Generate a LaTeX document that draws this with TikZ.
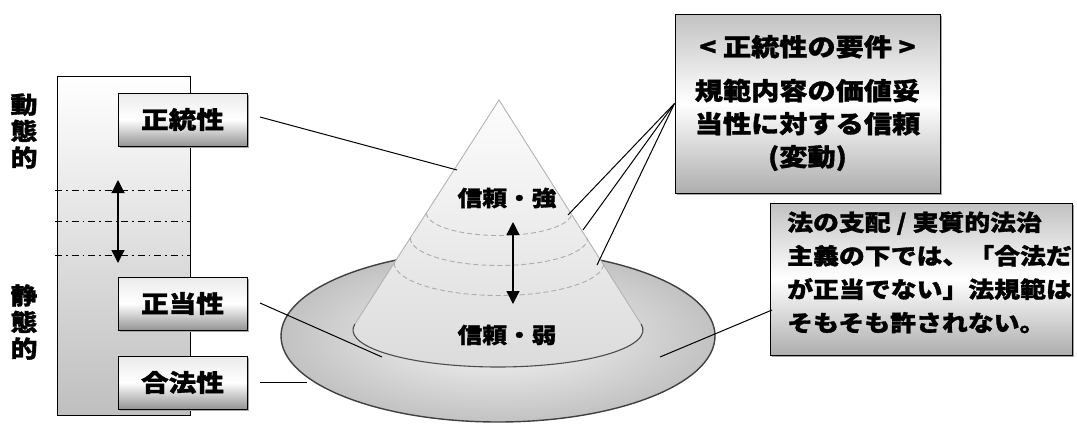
\documentclass[tikz,border=0pt]{standalone}
\usepackage{fontspec}
\newfontfamily\jp{Noto Sans CJK JP}[FakeStretch=1.15, BoldFeatures={FakeBold=1.3}]
\usetikzlibrary{arrows.meta,calc}
\pgfdeclareverticalshading{smallgradient}{100bp}{color(0bp)=(black!45); color(25bp)=(black!42); color(50bp)=(white); color(75bp)=(black!8); color(100bp)=(black!8)}
\pgfdeclareverticalshading{biggradient}{100bp}{color(0bp)=(black!35); color(25bp)=(black!32); color(50bp)=(white); color(75bp)=(black!24); color(100bp)=(black!24)}
\begin{document}
\begin{tikzpicture}[x=1pt,y=-1pt,
  lbl/.style={font=\jp\bfseries\fontsize{24}{28}\selectfont},
  conelbl/.style={font=\jp\bfseries\fontsize{21.5}{24}\selectfont},
  vert/.style={font=\jp\bfseries\fontsize{23.5}{26.5}\selectfont, align=center, inner sep=0pt},
  smallbox/.style={lbl, draw=black, line width=1pt, minimum width=129pt, minimum height=53pt, inner sep=0pt},
  bigbox/.style={draw=black, line width=1pt, inner sep=0pt},
  conn/.style={line width=1pt, black},
  dashdot/.style={line width=0.7pt, dash pattern=on 7pt off 4pt on 1.5pt off 4pt},
  dbl/.style={{Triangle[length=13pt,width=13pt]}-{Triangle[length=13pt,width=13pt]}, line width=1.3pt},
  level/.style={gray!65, line width=0.9pt, dash pattern=on 5pt off 3pt}
]
\useasboundingbox (0,0) rectangle (1077,424);

% left column
\draw[line width=0.9pt, top color=white, bottom color=gray!50] (57,76) rectangle (190,415);
\draw[dashdot] (55,190) -- (190,190);
\draw[dashdot] (55,221) -- (190,221);
\draw[dashdot] (55,255) -- (190,255);
\coordinate (la) at (118,180);
\coordinate (lb) at (118,263);
\draw[dbl] (la) -- (lb);

\node[vert] (dyn) at (24,131) {動\\態\\的};
\node[vert] (sta) at (24,322) {静\\態\\的};

% small boxes: shadow, gradient, then outlined node with text
\foreach \cy in {119.5,303.5,382.5}{
  \fill[gray!70] (118+2,\cy-26.5+2) rectangle (247+2,\cy+26.5+2);
  \shade[shading=smallgradient] (118,\cy-26.5) rectangle (247,\cy+26.5);
}
\node[smallbox] (zt) at (182.5,119.5) {正統性};
\node[smallbox] (zd) at (182.5,303.5) {正当性};
\node[smallbox] (gh) at (182.5,382.5) {合法性};

% disk
\draw[line width=1.4pt, black!75, inner color=gray!5, outer color=gray!48] (498,336) ellipse [x radius=217, y radius=86];

% cone
\coordinate (apex) at (499,100);
\coordinate (bc) at (498,330);
\path[top color=gray!2, bottom color=gray!28]
  (apex) -- ($(bc)+(189.3:145 and 37)$) arc[start angle=189.3, end angle=-9.3, x radius=145, y radius=37] -- cycle;
\draw[gray!60, line width=0.9pt] ($(bc)+(189.3:145 and 37)$) -- (apex) -- ($(bc)+(-9.3:145 and 37)$);
\draw[black!70, line width=1.1pt] ($(bc)+(189.3:145 and 37)$) arc[start angle=189.3, end angle=-9.3, x radius=145, y radius=37];

% dashed levels
\foreach \yy/\w in {213/72.6, 238/88.7, 263/104.8}{
  \draw[level] (499-\w,\yy) arc[start angle=180, end angle=0, x radius=\w, y radius=0.31*\w];
}

\node[conelbl] (strong) at (507,198) {信頼・強};
\node[conelbl] (weak) at (507,335) {信頼・弱};
\coordinate (ca) at (513,222);
\coordinate (cb) at (513,304);
\draw[dbl] (ca) -- (cb);

% requirement box
\fill[gray!70] (677,16) rectangle (942,195);
\shade[shading=biggradient] (675,14) rectangle (940,193);
\node[bigbox, minimum width=265pt, minimum height=179pt] (req) at (807.5,103.5) {};
\node[lbl, align=center, inner sep=0pt, font=\jp\bfseries\fontsize{24.5}{33}\selectfont] (reqtext) at (807.5,103) {< 正統性の要件 >\\[11pt]規範内容の価値妥\\当性に対する信頼\\(変動)};

% rule of law box
\fill[gray!70] (772,205) rectangle (1074,357);
\shade[shading=biggradient] (770,203) rectangle (1072,355);
\node[bigbox, minimum width=302pt, minimum height=152pt] (rule) at (921,279) {};
\node[lbl, align=left, inner sep=0pt, anchor=west, font=\jp\bfseries\fontsize{22.5}{33.5}\selectfont] (ruletext) at (787,272.5) {法の支配 / 実質的法治\\主義の下では、「合法だ\\が正当でない」法規範は\\そもそも許されない。};

% connectors
\coordinate (s1) at (260,117);
\coordinate (e1) at (457,170);
\draw[conn] (s1) -- (e1);
\coordinate (s2) at (260,303);
\coordinate (e2) at (382,357);
\draw[conn] (s2) -- (e2);
\coordinate (s3) at (260,382);
\coordinate (e3) at (307,382);
\draw[conn] (s3) -- (e3);
\coordinate (r1) at (568,215);
\coordinate (r2) at (583,230);
\coordinate (r3) at (597,265);
\draw[conn] (req.west) -- (r1);
\draw[conn] (req.west) -- (r2);
\draw[conn] (req.west) -- (r3);
\coordinate (s4) at (772,310);
\coordinate (e4) at (660,357);
\draw[conn] (s4) -- (e4);
\end{tikzpicture}
\end{document}
